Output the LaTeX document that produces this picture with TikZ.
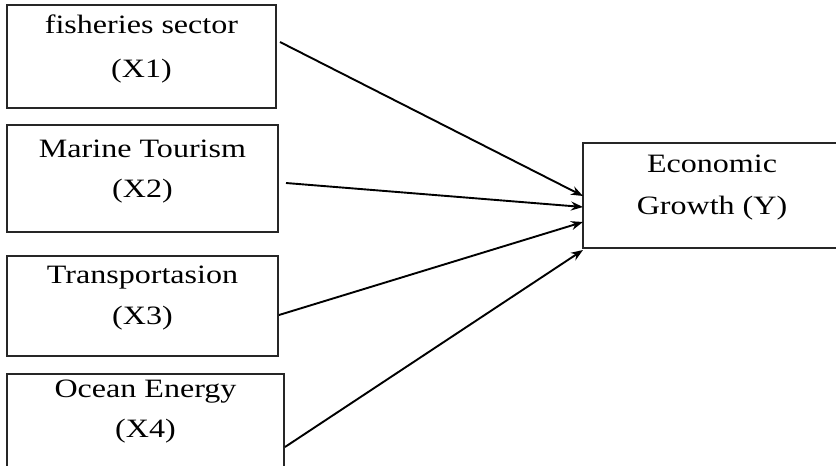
\documentclass[tikz,border=0pt]{standalone}
\usepackage{fontspec}
\setmainfont{Liberation Serif}[FakeStretch=1.21]
\usetikzlibrary{arrows.meta}
\begin{document}
\begin{tikzpicture}[x=1pt,y=-1pt,
  boxst/.style={draw=black!85, line width=2pt, rectangle, inner sep=0pt, outer sep=0pt, anchor=north west},
  lbl/.style={anchor=base, font=\fontsize{26.5}{34}\selectfont, inner sep=0pt},
  arr/.style={line width=1.9pt, -{Stealth[length=12pt,width=9pt,inset=4pt]}}]
\clip (0,0) rectangle (836,466);
\fill[white] (0,0) rectangle (836,466);
% boxes
\node[boxst, minimum width=269pt, minimum height=103pt] (x1) at (7,5) {};
\node[boxst, minimum width=271pt, minimum height=107pt] (x2) at (7,125) {};
\node[boxst, minimum width=271pt, minimum height=100pt] (x3) at (7,256) {};
\node[boxst, minimum width=277pt, minimum height=110pt] (x4) at (7,374) {};
\node[boxst, minimum width=258pt, minimum height=105pt] (yb) at (583,143) {};
% labels
\node[lbl] (t1a) at (141.5,33) {fisheries sector};
\node[lbl] (t1b) at (141.5,77) {(X1)};
\node[lbl] (t2a) at (142.5,157) {Marine Tourism};
\node[lbl] (t2b) at (142.5,197) {(X2)};
\node[lbl] (t3a) at (142.5,283) {Transportasion};
\node[lbl] (t3b) at (142.5,324) {(X3)};
\node[lbl] (t4a) at (145.5,397) {Ocean Energy};
\node[lbl] (t4b) at (145.5,437) {(X4)};
\node[lbl] (tya) at (712,172) {Economic};
\node[lbl] (tyb) at (712,214) {Growth (Y)};
% arrow start points
\coordinate (s1) at (280,42);
\coordinate (s2) at (286,183);
\coordinate (s3) at (279,315);
\coordinate (s4) at (285,447);
\draw[arr] (s1) -- ([yshift=-0.5pt]yb.west);
\draw[arr] (s2) -- ([yshift=-11.5pt]yb.west);
\draw[arr] (s3) -- ([yshift=-26.5pt]yb.west);
\draw[arr] (s4) -- ([yshift=-2pt]yb.south west);
\end{tikzpicture}
\end{document}
